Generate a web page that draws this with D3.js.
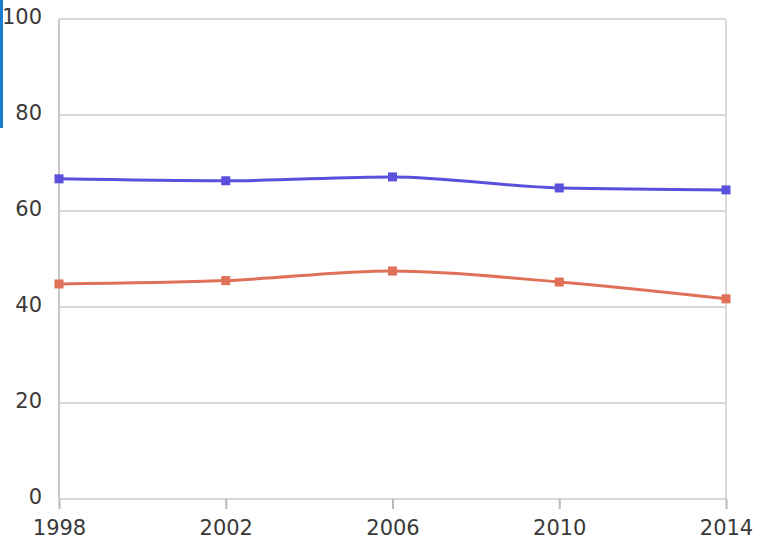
<!DOCTYPE html>
<html><head><meta charset="utf-8">
<script src="https://cdn.jsdelivr.net/npm/d3@7"></script>
<style>body{margin:0;background:#fff;}svg{display:block;}</style>
</head><body>
<svg id="c" width="759" height="541"></svg>
<script>
const years = [1998, 2002, 2006, 2010, 2014];
const blueValues = [66.7, 66.3, 67.1, 64.8, 64.4];
const redValues = [44.8, 45.5, 47.5, 45.2, 41.7];
const yTicks = [0, 20, 40, 60, 80, 100];

const svg = d3.select("#c");
const x = d3.scaleLinear().domain([1998, 2014]).range([59, 726]);
const y = d3.scaleLinear().domain([0, 100]).range([499, 19]);

// left blue edge
svg.append("rect").attr("x", 0).attr("y", 0).attr("width", 3).attr("height", 128).attr("fill", "#1a7fcf");

// gridlines
svg.append("g").selectAll("line").data(yTicks).join("line")
  .attr("x1", x(1998)).attr("x2", x(2014))
  .attr("y1", d => y(d)).attr("y2", d => y(d))
  .attr("stroke", "#d8d8d8").attr("stroke-width", 2);
// right border
svg.append("line").attr("x1", x(2014)).attr("x2", x(2014)).attr("y1", y(100)).attr("y2", y(0))
  .attr("stroke", "#d8d8d8").attr("stroke-width", 2);
// left axis
svg.append("line").attr("x1", x(1998)).attr("x2", x(1998)).attr("y1", y(100)).attr("y2", y(0))
  .attr("stroke", "#c8c8c8").attr("stroke-width", 2);

// x axis
const xAxis = d3.axisBottom(x).tickValues(years).tickFormat(d3.format("d")).tickSize(10).tickPadding(11);
const gx = svg.append("g").attr("transform", `translate(0,${y(0)})`).call(xAxis);
gx.select(".domain").remove();
gx.selectAll(".tick line").attr("stroke", "#b8b8b8").attr("stroke-width", 2);
gx.selectAll(".tick text").attr("fill", "#3a3a3a").style("font-family", "DejaVu Sans, Verdana, sans-serif").style("font-size", "21px");

// y axis
const yAxis = d3.axisLeft(y).tickValues(yTicks).tickSize(0).tickPadding(17);
const gy = svg.append("g").attr("transform", `translate(${x(1998)},0)`).call(yAxis);
gy.select(".domain").remove();
gy.selectAll(".tick text").attr("fill", "#3a3a3a").attr("dy", "0.2em").style("font-family", "DejaVu Sans, Verdana, sans-serif").style("font-size", "21px");

const series = [
  {vals: blueValues, color: "#5a50dc"},
  {vals: redValues, color: "#e07058"}
];
const line = d3.line().x((d, i) => x(years[i])).y(d => y(d)).curve(d3.curveMonotoneX);
series.forEach(s => {
  svg.append("path").datum(s.vals).attr("d", line).attr("fill", "none")
    .attr("stroke", s.color).attr("stroke-width", 3);
  svg.append("g").selectAll("rect").data(s.vals).join("rect")
    .attr("x", (d, i) => x(years[i]) - 4.5).attr("y", d => y(d) - 4.5)
    .attr("width", 9).attr("height", 9).attr("fill", s.color);
});
</script>
</body></html>
